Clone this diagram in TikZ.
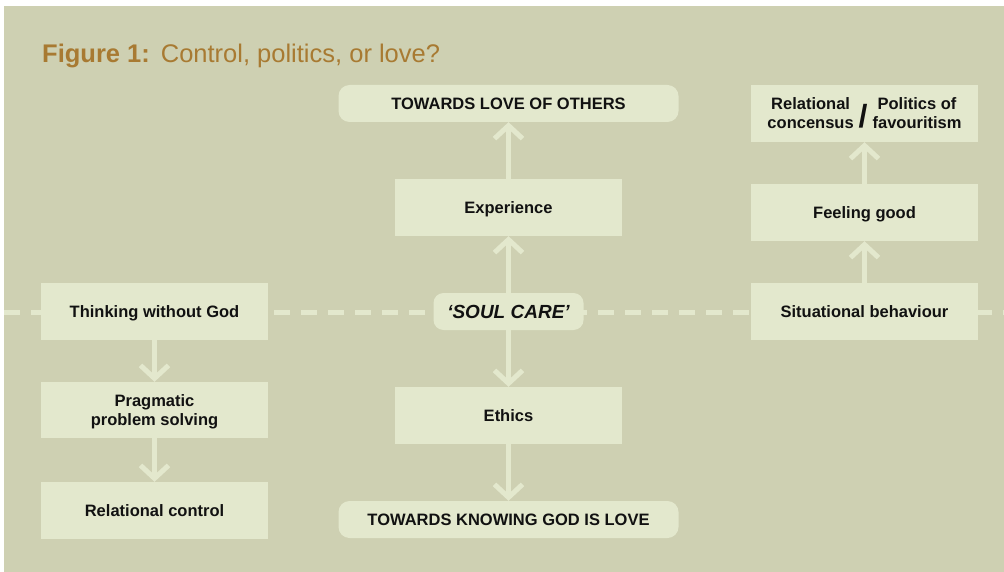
\documentclass[tikz,border=0pt]{standalone}
\usepackage{fontspec}
\setmainfont{Liberation Sans}
\usetikzlibrary{arrows.meta}
\definecolor{bg}{HTML}{CED0B2}
\definecolor{boxfill}{HTML}{E3E8CD}
\definecolor{titlec}{HTML}{A87A32}
\definecolor{txt}{HTML}{111111}
\tikzset{
  stepbox/.style={fill=boxfill, draw=none, minimum width=227pt, minimum height=57pt, inner sep=0pt,
    align=center, text=txt, text depth=0pt, font=\fontsize{16.5}{19}\selectfont\bfseries},
  pill/.style={fill=boxfill, draw=none, rounded corners=11pt, minimum height=37pt, inner sep=0pt,
    align=center, text=txt, text depth=0pt, font=\fontsize{16.5}{19}\selectfont\bfseries},
  flow/.style={draw=boxfill, line width=5pt, -{Straight Barb[length=13pt,width=28pt]}},
}
\begin{document}
\begin{tikzpicture}[x=1pt,y=-1pt]
\useasboundingbox (0,0) rectangle (1004,572);
\fill[white] (0,0) rectangle (1004,572);
\fill[bg] (4,6) rectangle (1004,572);
% title
\node[anchor=base west, inner sep=0pt, text=titlec, font=\fontsize{25.5}{28}\selectfont] (title) at (42,63)
  {\textbf{Figure 1:}\hspace{11pt}Control, politics, or love?};
% dashed axis
\coordinate (dl) at (4,312);
\coordinate (dr) at (1004,312);
\draw[boxfill, line width=5pt, dash pattern=on 16pt off 11pt] (dl) -- (dr);
% left column
\node[stepbox] (think) at (154.5,311.5) {Thinking without God};
\node[stepbox, minimum height=56pt] (prag) at (154.5,410) {Pragmatic\\problem solving};
\node[stepbox] (rcontrol) at (154.5,510.5) {Relational control};
% centre column
\node[pill, minimum width=340pt] (others) at (508.5,103.5) {TOWARDS LOVE OF OTHERS};
\node[stepbox] (exp) at (508.5,207.5) {Experience};
\node[pill, minimum width=150pt, rounded corners=10pt, font=\fontsize{19}{21}\selectfont\bfseries\itshape] (soul) at (508.5,311.5) {‘SOUL CARE’};
\node[stepbox] (ethics) at (508.5,415.5) {Ethics};
\node[pill, minimum width=340pt] (god) at (508.5,519.5) {TOWARDS KNOWING GOD IS LOVE};
% right column
\node[stepbox, text depth=11pt] (relpol) at (864.5,113.5) {\begin{tabular}{@{}c@{}}Relational\\concensus\end{tabular}\hspace{5pt}\raisebox{-8pt}{\fontsize{32}{32}\selectfont /}\hspace{5pt}\begin{tabular}{@{}c@{}}Politics of\\favouritism\end{tabular}};
\node[stepbox] (feel) at (864.5,212.5) {Feeling good};
\node[stepbox] (situ) at (864.5,311.5) {Situational behaviour};
% arrows
\draw[flow] (think.south) -- (prag.north);
\draw[flow] (prag.south) -- (rcontrol.north);
\draw[flow] (soul.north) -- (exp.south);
\draw[flow] (exp.north) -- (others.south);
\draw[flow] (soul.south) -- (ethics.north);
\draw[flow] (ethics.south) -- (god.north);
\draw[flow] (situ.north) -- (feel.south);
\draw[flow] (feel.north) -- (relpol.south);
\end{tikzpicture}
\end{document}
